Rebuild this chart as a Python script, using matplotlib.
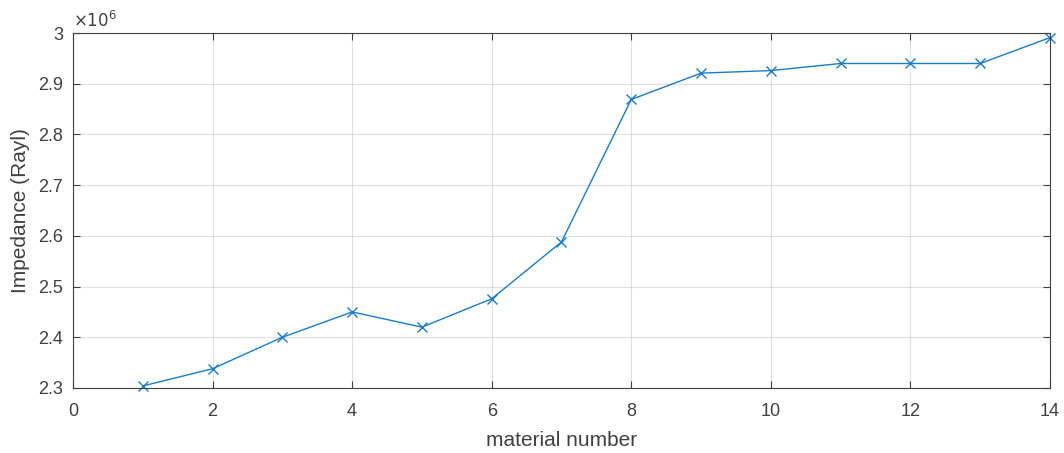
import matplotlib
matplotlib.use("Agg")
from matplotlib import pyplot as plt
from matplotlib.ticker import FuncFormatter, MultipleLocator

material = list(range(1, 15))
impedance = [2.304e6, 2.338e6, 2.400e6, 2.450e6, 2.420e6, 2.476e6, 2.588e6,
             2.869e6, 2.921e6, 2.926e6, 2.940e6, 2.940e6, 2.940e6, 2.991e6]

plt.rcParams["font.family"] = ["Liberation Sans", "DejaVu Sans"]
grey = "#404040"

fig = plt.figure(figsize=(10.64, 4.53), dpi=100)
ax = fig.add_axes([0.0686, 0.1435, 0.9182, 0.7835])

ax.plot(material, impedance, color="#1a7cc6", marker="x", markersize=7,
        linewidth=1.0, markeredgewidth=1.0, clip_on=False)

ax.set_xlim(0, 14)
ax.set_ylim(2.3e6, 3.0e6)
ax.xaxis.set_major_locator(MultipleLocator(2))
ax.yaxis.set_major_locator(MultipleLocator(0.1e6))
ax.yaxis.set_major_formatter(FuncFormatter(lambda v, p: f"{v / 1e6:g}"))

ax.grid(True, color="#000000", alpha=0.12, linewidth=0.8)
ax.set_axisbelow(True)
ax.tick_params(direction="in", top=True, right=True, length=5, width=0.8,
               colors=grey, labelsize=13)
ax.tick_params(axis="x", pad=11)
ax.tick_params(axis="y", pad=7)
for s in ax.spines.values():
    s.set_color(grey)
    s.set_linewidth(0.8)

ax.set_xlabel("material number", fontsize=15, color=grey, labelpad=8)
ax.set_ylabel("Impedance (Rayl)", fontsize=15, color=grey, labelpad=6)
ax.text(0.0, 1.01, r"$\times10^{6}$", transform=ax.transAxes, fontsize=12,
        color=grey, ha="left", va="bottom")

fig.savefig("out.png", dpi=100)
